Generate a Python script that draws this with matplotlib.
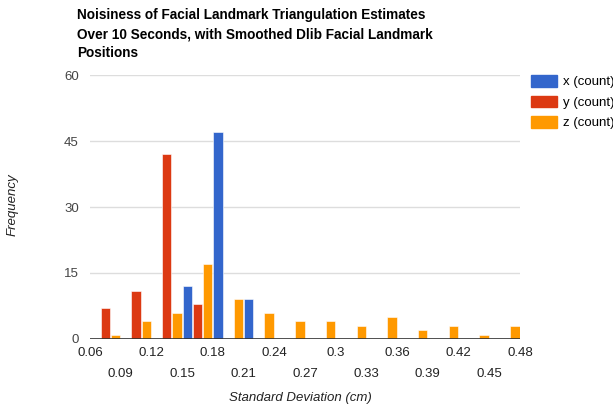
import matplotlib.pyplot as plt
import numpy as np
from matplotlib.patches import Patch

# histogram bins (cm) and counts per series
bin_edges = [0.06, 0.09, 0.12, 0.15, 0.18, 0.21, 0.24, 0.27, 0.30, 0.33, 0.36, 0.39, 0.42, 0.45, 0.48]
x_count = [0, 0, 0, 12, 47, 9, 0, 0, 0, 0, 0, 0, 0, 0]
y_count = [7, 11, 42, 8, 0, 0, 0, 0, 0, 0, 0, 0, 0, 0]
z_count = [1, 4, 6, 17, 9, 6, 4, 4, 3, 5, 2, 3, 1, 3]
series_names = ["x (count)", "y (count)", "z (count)"]
colors = ["#3366CC", "#DC3912", "#FF9900"]

plt.rcParams['font.family'] = ['Liberation Sans', 'DejaVu Sans']

fig = plt.figure(figsize=(6.13, 4.11), dpi=100)
ax = fig.add_axes([0.1468, 0.1752, 0.7015, 0.6423])

left = np.array(bin_edges[:-1])
step = 0.03 / 3
for i, (counts, col) in enumerate(zip([x_count, y_count, z_count], colors)):
    c = np.array(counts)
    keep = c > 0
    ax.bar(left[keep] + step * i + step / 2, c[keep], width=step * 0.92,
           color=col, edgecolor='white', linewidth=0.4, zorder=3)

ax.set_xlim(0.06, 0.48)
ax.set_ylim(0, 60)
ax.set_yticks([0, 15, 30, 45, 60])
ax.grid(axis='y', color='#dddddd', linewidth=1, zorder=0)
ax.axhline(0, color='#333333', linewidth=1.2, zorder=4)
for s in ax.spines.values():
    s.set_visible(False)

ticks = [round(v, 2) for v in bin_edges]
major = ticks[0::2]
minor = ticks[1::2]
ax.set_xticks(major)
ax.set_xticklabels([f"{v:g}" for v in major])
ax.set_xticks(minor, minor=True)
ax.set_xticklabels([f"{v:g}" for v in minor], minor=True)
ax.tick_params(axis='x', which='major', length=0, pad=6, labelsize=9.5, colors='#222222')
ax.tick_params(axis='x', which='minor', length=0, pad=21, labelsize=9.5, colors='#222222')
ax.tick_params(axis='y', length=0, pad=8, labelsize=9.5, colors='#444444')

fig.text(0.49, 1 - 398 / 411, "Standard Deviation (cm)", fontstyle='italic', fontsize=9.5,
         ha='center', va='center', color='#222222')
fig.text(0.02, 1 - 205 / 411, "Frequency", rotation=90, fontstyle='italic', fontsize=9.5,
         va='center', ha='center', color='#222222')

fig.text(0.126, 0.98, "Noisiness of Facial Landmark Triangulation Estimates\n"
         "Over 10 Seconds, with Smoothed Dlib Facial Landmark\nPositions",
         fontsize=9.8, fontweight='bold', va='top', ha='left', linespacing=1.45)

handles = [Patch(color=c) for c in colors]
fig.legend(handles, series_names, loc='upper left', bbox_to_anchor=(0.866, 0.817),
           frameon=False, fontsize=9.5, handlelength=2.0, handleheight=0.95,
           handletextpad=0.4, labelspacing=0.55, borderaxespad=0, borderpad=0)

fig.savefig("out.png", dpi=100)
